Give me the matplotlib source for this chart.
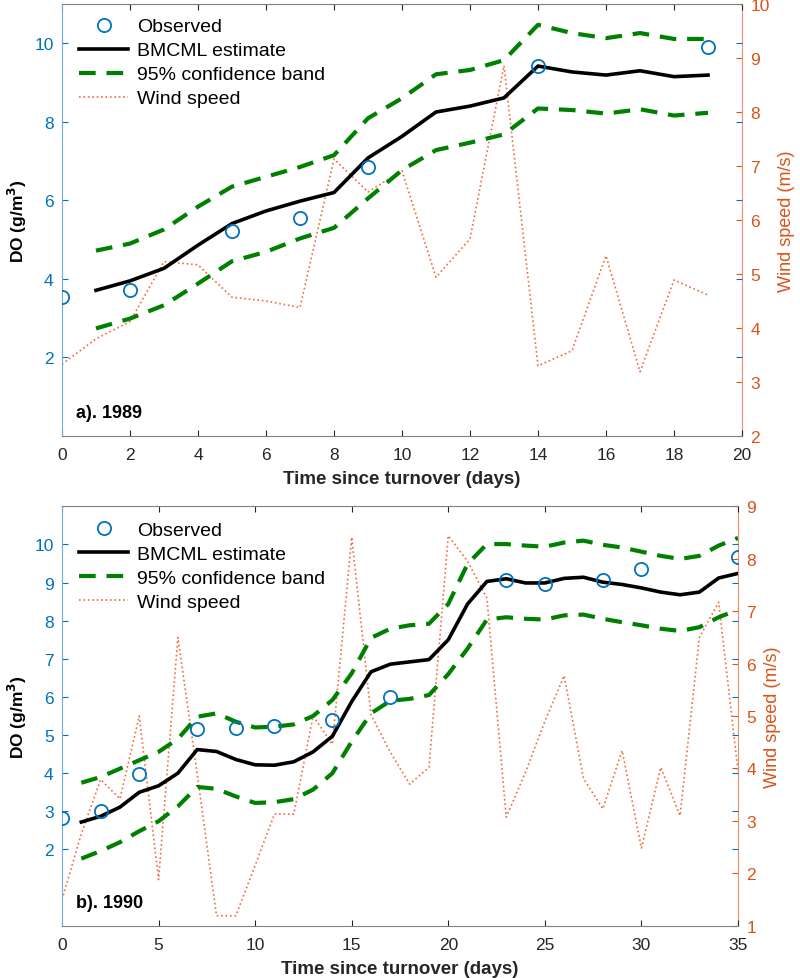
import numpy as np
import matplotlib.pyplot as plt

plt.rcParams["font.family"] = ["Liberation Sans", "DejaVu Sans"]

BLUE = "#0072BD"
ORANGE = "#D95319"
WIND = "#F26B3A"
GREEN = "#008000"
GRAY = "#262626"

# ---- 1989 ----
obs1_t = [0, 2, 5, 7, 9, 14, 19]
obs1 = [3.55, 3.71, 5.21, 5.56, 6.86, 9.41, 9.90]
est1_t = list(range(1, 20))
est1 = [3.71, 3.95, 4.27, 4.86, 5.41, 5.73, 5.98, 6.20, 7.08, 7.63,
        8.25, 8.40, 8.61, 9.42, 9.27, 9.19, 9.30, 9.15, 9.19]
up1 = [4.72, 4.90, 5.26, 5.84, 6.35, 6.60, 6.85, 7.15, 8.09, 8.60,
       9.21, 9.32, 9.57, 10.47, 10.26, 10.13, 10.26, 10.11, 10.11]
lo1 = [2.74, 2.99, 3.33, 3.88, 4.45, 4.69, 5.03, 5.30, 6.05, 6.77,
       7.28, 7.47, 7.68, 8.34, 8.30, 8.21, 8.32, 8.16, 8.23]
wind1_t = list(range(0, 20))
wind1 = [3.33, 3.80, 4.12, 5.23, 5.17, 4.57, 4.50, 4.38, 7.13, 6.52,
         6.91, 4.94, 5.65, 8.86, 3.30, 3.58, 5.34, 3.19, 4.89, 4.61]

# ---- 1990 ----
obs2_t = [0, 2, 4, 7, 9, 11, 14, 17, 23, 25, 28, 30, 35]
obs2 = [2.83, 3.00, 3.99, 5.15, 5.19, 5.24, 5.40, 5.99, 9.07, 8.97, 9.07, 9.36, 9.66]
est2_t = list(range(1, 36))
est2 = [2.72, 2.87, 3.11, 3.50, 3.67, 4.00, 4.62, 4.57, 4.36, 4.22,
        4.21, 4.30, 4.56, 4.97, 5.88, 6.66, 6.86, 6.92, 6.98, 7.50,
        8.44, 9.03, 9.10, 8.99, 8.99, 9.11, 9.14, 9.01, 8.95, 8.86,
        8.75, 8.68, 8.75, 9.12, 9.24]
up2 = [3.75, 3.90, 4.12, 4.34, 4.56, 4.90, 5.48, 5.57, 5.35, 5.20,
       5.22, 5.28, 5.50, 5.92, 6.62, 7.55, 7.79, 7.88, 7.92, 8.44,
       9.49, 10.01, 10.01, 9.97, 9.94, 10.05, 10.10, 9.99, 9.92, 9.81,
       9.70, 9.62, 9.70, 9.97, 10.17]
lo2 = [1.76, 1.96, 2.19, 2.48, 2.74, 3.13, 3.64, 3.59, 3.39, 3.22,
       3.24, 3.32, 3.57, 4.00, 4.83, 5.57, 5.90, 5.95, 6.05, 6.60,
       7.27, 8.03, 8.09, 8.05, 8.03, 8.14, 8.16, 8.05, 7.96, 7.88,
       7.79, 7.73, 7.83, 8.09, 8.29]
wind2_t = list(range(0, 36))
wind2 = [1.50, 2.75, 3.79, 3.42, 5.00, 1.88, 6.50, 3.90, 1.19, 1.19,
         2.15, 3.13, 3.13, 5.00, 4.46, 8.41, 5.02, 4.31, 3.70, 4.02,
         8.44, 7.95, 7.25, 3.07, 3.93, 4.90, 5.77, 3.81, 3.23, 4.34,
         2.48, 4.02, 3.10, 6.50, 7.17, 3.95]


def panel(ax, obs_t, obs, est_t, est, up, lo, wind_t, wind,
          xmax, xstep, do_ticks, wind_lim, tag, leg_y):
    ax2 = ax.twinx()

    h_obs, = ax.plot(obs_t, obs, "o", ms=9.5, mfc="none", mec=BLUE, mew=1.3,
                     label="Observed", zorder=5)
    h_est, = ax.plot(est_t, est, "-", color="black", lw=2.6,
                     label="BMCML estimate", zorder=4)
    h_band, = ax.plot(est_t, up, color=GREEN, lw=3, ls=(0, (4.0, 2.6)),
                      label="95% confidence band", zorder=3)
    ax.plot(est_t, lo, color=GREEN, lw=3, ls=(0, (4.0, 2.6)), zorder=3)
    h_wind, = ax2.plot(wind_t, wind, color=WIND, lw=1.2, ls=":",
                       label="Wind speed")
    ax.set_zorder(ax2.get_zorder() + 1)
    ax.patch.set_visible(False)

    ax.set_xlim(0, xmax)
    ax.set_xticks(np.arange(0, xmax + 1, xstep))
    ax.set_ylim(0, 11)
    ax.set_yticks(do_ticks)
    ax2.set_ylim(*wind_lim)

    ax.tick_params(axis="x", direction="in", top=True, length=4,
                   colors=GRAY, labelsize=12.5, pad=8)
    ax.tick_params(axis="y", direction="in", right=True, length=4,
                   colors=BLUE, labelsize=12.5, pad=6)
    ax2.tick_params(axis="y", direction="in", length=4, colors=ORANGE,
                    labelsize=12.5, pad=6)

    for s in ["top", "bottom"]:
        ax.spines[s].set_color("#808080")
    ax.spines["left"].set_color("#6FAEDD")
    ax.spines["right"].set_visible(False)
    ax2.spines["right"].set_color("#E9916B")
    ax2.spines["left"].set_visible(False)
    ax2.spines["top"].set_visible(False)
    ax2.spines["bottom"].set_visible(False)

    ax.set_xlabel("Time since turnover (days)", fontsize=13.5,
                  fontweight="bold", color=GRAY, labelpad=6)
    ax.set_ylabel("DO (g/m$^\\mathbf{3}$)", fontsize=12.5,
                  fontweight="bold", color="black", labelpad=4)
    ax2.set_ylabel("Wind speed (m/s)", fontsize=13, color=ORANGE, labelpad=6)

    ax.text(0.02, 0.055, tag, transform=ax.transAxes, fontsize=13,
            fontweight="bold", va="center", ha="left")

    handles = [h_obs, h_est, h_band, h_wind]
    ax.legend(handles, [h.get_label() for h in handles],
              loc="upper left", frameon=False, fontsize=14,
              handlelength=2.5, labelspacing=0.33, handletextpad=0.45,
              borderaxespad=0.15, bbox_to_anchor=(0.01, leg_y))
    return ax2


fig = plt.figure(figsize=(8, 9.79), dpi=100)
ax_a = fig.add_axes([0.0775, 0.5536, 0.85, 0.4413])
ax_b = fig.add_axes([0.0775, 0.0534, 0.845, 0.4284])

panel(ax_a, obs1_t, obs1, est1_t, est1, up1, lo1, wind1_t, wind1,
      20, 2, [2, 4, 6, 8, 10], (2, 10), "a). 1989", 0.993)
panel(ax_b, obs2_t, obs2, est2_t, est2, up2, lo2, wind2_t, wind2,
      35, 5, list(range(2, 11)), (1, 9), "b). 1990", 0.99)

fig.savefig("out.png", dpi=100)
